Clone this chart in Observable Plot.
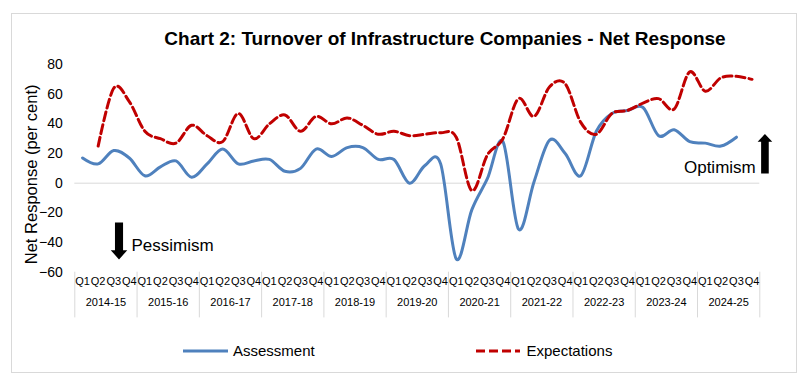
<!DOCTYPE html>
<html><head><meta charset="utf-8">
<script src="https://cdn.jsdelivr.net/npm/d3@7"></script>
<script src="https://cdn.jsdelivr.net/npm/@observablehq/plot@0.6"></script>
<style>
body{margin:0;background:#fff;font-family:"Liberation Sans",Arial,sans-serif;}
#wrap{position:relative;width:810px;height:389px;overflow:hidden;background:#fff;}
#frame{position:absolute;left:11px;top:13px;width:786px;height:360px;border:1px solid #d9d9d9;box-sizing:border-box;}
#title{position:absolute;left:45px;width:800px;top:29px;text-align:center;font-weight:bold;font-size:19px;line-height:1;color:#000;white-space:nowrap;}
#chart{position:absolute;left:0;top:55px;}
#legend{position:absolute;left:0;top:330px;}
</style></head>
<body>
<div id="wrap">
  <div id="frame"></div>
  <div id="title">Chart 2: Turnover of Infrastructure Companies - Net Response</div>
  <div id="chart"></div>
  <svg id="legend" width="810" height="40" font-family="Liberation Sans, Arial, sans-serif" font-size="15">
    <line x1="183" x2="228" y1="21" y2="21" stroke="#4F81BD" stroke-width="3"/>
    <text x="233" y="26" fill="#000">Assessment</text>
    <line x1="476" x2="520" y1="21" y2="21" stroke="#C00000" stroke-width="3" stroke-dasharray="9,4"/>
    <text x="526.5" y="26" fill="#000">Expectations</text>
  </svg>
</div>
<script>
// ---- data ----
const quarters = ["Q1", "Q2", "Q3", "Q4"];
const years = ["2014-15","2015-16","2016-17","2017-18","2018-19","2019-20","2020-21","2021-22","2022-23","2023-24","2024-25"];
const assessment = [17, 13, 22, 17, 5, 11, 15, 4, 13, 23, 13, 15, 16, 8, 10, 23, 18, 24, 24, 16, 16, 0, 12, 13,
  -51, -18, 3, 28, -31, 1, 29, 20, 5, 35, 47, 49, 51, 32, 36, 28, 27, 25, 31];
const expectations = [null, 25, 64, 55, 35, 30, 27, 39, 32, 28, 47, 30, 40, 46, 35, 45, 40, 44, 39, 33, 35, 32, 33, 34,
  31, -5, 19, 30, 57, 45, 65, 67, 41, 33, 47, 49, 54, 57, 50, 75, 62, 71, 72, 70];
const yTicks = [-60, -40, -20, 0, 20, 40, 60, 80];
const yLabel = "Net Response (per cent)";
const notes = [{text: "Pessimism"}, {text: "Optimism"}];

// ---- derived tables ----
const nQ = years.length * quarters.length;
const assessRows = assessment.map((v, i) => ({i, v}));
const expRows = expectations.map((v, i) => ({i, v})).filter(d => d.v != null);
const qRows = d3.range(nQ).map(i => ({i, q: quarters[i % 4]}));
const yRows = years.map((y, k) => ({i: k * 4 + 1.5, y}));
const seps = d3.range(years.length + 1).map(k => k * 4 - 0.5);

// annotation arrows (data units)
function arrowPoly(cx, yStart, yHead, yTip, sh, hh) {
  return [
    {x: cx - sh, y: yStart}, {x: cx + sh, y: yStart}, {x: cx + sh, y: yHead},
    {x: cx + hh, y: yHead}, {x: cx, y: yTip}, {x: cx - hh, y: yHead}, {x: cx - sh, y: yHead}
  ];
}
const pessArrow = arrowPoly(2.34, -26.5, -45.2, -51.4, 0.26, 0.53);
const optArrow = arrowPoly(43.83, 6.5, 28, 33.2, 0.245, 0.47);

const BLUE = "#4F81BD", RED = "#C00000", GRID = "#d9d9d9";

const chart = Plot.plot({
  width: 810,
  height: 270,
  marginLeft: 74.3,
  marginRight: 50.7,
  marginTop: 9,
  marginBottom: 53.3,
  style: {fontFamily: "Liberation Sans, Arial, sans-serif", fontSize: "14px", color: "#000", background: "transparent", overflow: "visible"},
  x: {domain: [-0.5, nQ - 0.5], axis: null},
  y: {domain: [-60, 80]},
  marks: [
    Plot.ruleY([0], {stroke: GRID, strokeWidth: 1}),
    Plot.ruleX(seps, {x: d => d, y1: -60, y2: -90.8, stroke: GRID, strokeWidth: 1}),
    Plot.axisY({ticks: yTicks, tickSize: 0, tickPadding: 12, fontSize: 14, label: null}),
    Plot.text([yLabel], {frameAnchor: "left", textAnchor: "middle", rotate: -90, dx: -42.6, dy: 6, fontSize: 16.5, fill: "#000"}),
    Plot.text(qRows, {x: "i", text: "q", frameAnchor: "bottom", dy: 12.3, fontSize: 11, fill: "#000"}),
    Plot.text(yRows, {x: "i", text: "y", frameAnchor: "bottom", dy: 33.8, fontSize: 11, fill: "#000"}),
    Plot.line(assessRows, {x: "i", y: "v", stroke: BLUE, strokeWidth: 3, curve: "cardinal"}),
    Plot.line(expRows, {x: "i", y: "v", stroke: RED, strokeWidth: 3, strokeDasharray: "9,4", curve: "cardinal"}),
    Plot.line(pessArrow, {x: "x", y: "y", fill: "#000", stroke: "none"}),
    Plot.line(optArrow, {x: "x", y: "y", fill: "#000", stroke: "none"}),
    Plot.text([notes[0]], {x: () => 3.14, y: () => -41.9, text: "text", textAnchor: "start", fontSize: 17, fill: "#000"}),
    Plot.text([notes[1]], {x: () => 43.24, y: () => 10.8, text: "text", textAnchor: "end", fontSize: 17, fill: "#000"})
  ]
});
document.getElementById("chart").appendChild(chart);
</script>
</body></html>
